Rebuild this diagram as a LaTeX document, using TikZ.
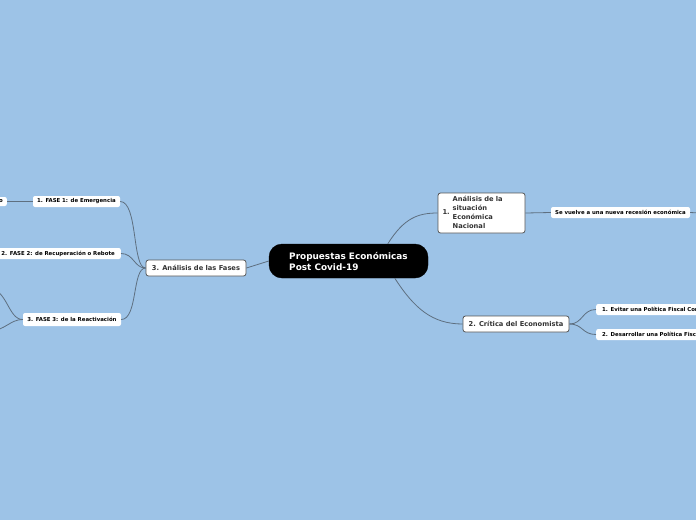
\documentclass[tikz,border=0pt]{standalone}
\usepackage{fontspec}
\setmainfont{DejaVu Sans}
\definecolor{bgblue}{HTML}{9DC3E7}
\definecolor{conn}{HTML}{5E6F80}
\definecolor{nodeborder}{HTML}{555555}
\definecolor{nodetext}{HTML}{333333}
\begin{document}
\begin{tikzpicture}[x=1pt,y=-1pt,
  central/.style={draw=black,fill=black,text=white,rounded corners=13pt,minimum width=159pt,minimum height=34pt,inner sep=0pt,
    font=\fontsize{8.9}{11}\selectfont\bfseries,align=left},
  topic/.style={draw=nodeborder,line width=0.8pt,fill=white,text=nodetext,rounded corners=2.5pt,inner sep=0pt,
    font=\fontsize{6.7}{8.9}\selectfont\bfseries},
  leaf/.style={fill=white,text=black,rounded corners=2pt,inner sep=0pt,minimum height=11pt,
    font=\fontsize{5.4}{6.4}\selectfont\bfseries},
  link/.style={draw=conn,line width=0.8pt}]
\useasboundingbox[fill=bgblue] (0,0) rectangle (696,520);

% central
\node[central] (c) at (348.5,261) {Propuestas Económicas\\Post Covid-19};

% topic 1
\node[topic,minimum width=87pt,minimum height=40pt,inner xsep=4.5pt,text width=78pt,align=left] (t1) at (481.5,213)
  {\begin{tabular}{@{}l@{\hspace{3pt}}l@{}}1. & \begin{tabular}[c]{@{}l@{}}Análisis de la\\situación\\Económica\\Nacional\end{tabular}\end{tabular}};
\node[leaf,minimum width=139pt] (l11) at (620.5,212.5) {Se vuelve a una nueva recesión económica};
\coordinate (l11r) at (700,213);

% topic 2
\node[topic,minimum width=106pt,minimum height=16pt] (t2) at (516,324) {2. Crítica del Economista};
\node[leaf,anchor=west,minimum width=110pt,minimum height=11pt,text width=104pt,align=left] (l21) at (596,309.5) {\hspace*{3pt}1. Evitar una Política Fiscal Cor};
\node[leaf,anchor=west,minimum width=110pt,minimum height=11pt,text width=104pt,align=left] (l22) at (596,334.5) {\hspace*{3pt}2. Desarrollar una Política Fisca};

% topic 3
\node[topic,minimum width=100pt,minimum height=16pt] (t3) at (196,268) {3. Análisis de las Fases};
\node[leaf,minimum width=87pt] (f1) at (76.5,201.5) {1. FASE 1: de Emergencia};
\node[leaf,anchor=east,minimum width=125pt,minimum height=11pt,text width=119pt,align=right] (f2) at (121,253.5) {2. FASE 2: de Recuperación o Rebote\hspace*{3pt}};
\node[leaf,minimum width=98pt,minimum height=13pt] (f3) at (72,319.5) {3. FASE 3: de la Reactivación};
\node[leaf,anchor=east,minimum width=30pt,minimum height=9pt,text width=25pt,align=right] (f1a) at (7,201.5) {o\hspace*{1.5pt}};
\coordinate (f3a) at (-12,287);
\coordinate (f3b) at (-12,332);

% connectors
\draw[link] (c.north west) ++(119,0) coordinate (cs1) .. controls (404,218) and (418,213) .. (t1.west);
\draw[link] (c.south west) ++(126,0) coordinate (cs2) .. controls (414,308) and (432,324) .. (t2.west);
\draw[link] (c.west) -- (t3.east);
\draw[link] (t1.east) -- (l11.west);
\draw[link] (l11.east) -- (l11r);
\draw[link] (t2.east) .. controls (583,324) and (582,309.5) .. (l21.west);
\draw[link] (t2.east) .. controls (583,324) and (582,334.5) .. (l22.west);
\draw[link] (t3.west) .. controls (132,268) and (138,201.5) .. (f1.east);
\draw[link] (t3.west) .. controls (134,268) and (134,253.5) .. (f2.east);
\draw[link] (t3.west) .. controls (132,268) and (138,319.5) .. (f3.east);
\draw[link] (f1a.east) -- (f1.west);
\draw[link] (f3.west) .. controls (8,319.5) and (8,290) .. (f3a);
\draw[link] (f3.west) .. controls (10,319.5) and (6,330) .. (f3b);
\end{tikzpicture}
\end{document}
